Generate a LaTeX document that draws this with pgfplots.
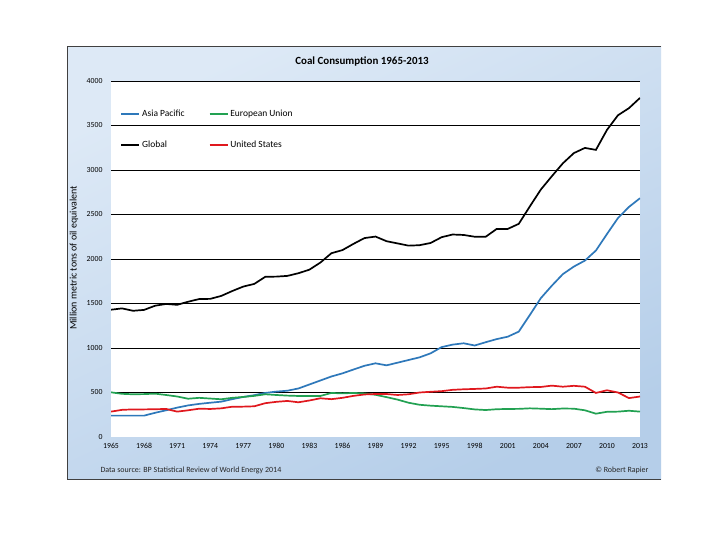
\documentclass[border=0pt]{standalone}
\usepackage{pgfplots}
\pgfplotsset{compat=1.18}
\usepackage{fontspec}
\setmainfont{Carlito}

\definecolor{apblue}{HTML}{2E78BA}
\definecolor{eugreen}{HTML}{22A152}
\definecolor{usred}{HTML}{E0181E}
\definecolor{bgtop}{HTML}{DDE9F6}
\definecolor{bgbot}{HTML}{B5CEE9}

\begin{document}
\begin{tikzpicture}[x=1bp,y=1bp]
\path[use as bounding box, fill=white] (0,0) rectangle (720,540);
% chart area background
\shade[top color=bgtop, bottom color=bgbot, shading angle=25] (67,60) rectangle (661,493);
\draw[black!75, line width=1bp] (661,493) -- (67,493) -- (67,60) -- (661,60);

\node[font=\bfseries\fontsize{11}{13}\selectfont] at (362,478) {Coal Consumption 1965-2013};
\node[rotate=90, font=\fontsize{10}{12}\selectfont] at (74,282) {Million metric tons of oil equivalent};
\node[anchor=west, font=\fontsize{8}{10}\selectfont, text=black!85] at (97,70) {Data source: BP Statistical Review of World Energy 2014};
\node[anchor=east, font=\fontsize{8}{10}\selectfont, text=black!85] at (652,70) {© Robert Rapier};

\begin{axis}[
    at={(111bp,103bp)}, anchor=south west,
    width=529bp, height=356bp, scale only axis,
    xmin=1965, xmax=2013, ymin=0, ymax=4000,
    axis background/.style={fill=white},
    axis line style={draw=none},
    tick style={draw=none},
    xtick={1965,1968,...,2013},
    ytick={500,1000,...,4000},
    extra y ticks={0}, extra y tick style={grid=none},
    ymajorgrids=true,
    grid style={black, line width=0.8bp},
    /pgf/number format/assume math mode=true,
    /pgf/number format/1000 sep={},
    ticklabel style={font=\fontsize{7.8}{9}\selectfont},
    yticklabel style={xshift=-5bp},
    xticklabel style={yshift=-3bp},
    no markers,
    every axis plot/.append style={line width=1.7bp},
    legend columns=2,
    legend cell align=left,
    legend style={at={(0.012,0.93)}, anchor=north west, draw=none, fill=none,
        font=\fontsize{9.5}{11}\selectfont, row sep=19bp,
        /tikz/every even column/.append style={column sep=22bp}},
    legend image code/.code={\draw[#1, line width=1.7bp] (0bp,0bp) -- (18bp,0bp);},
]
\addplot[apblue] coordinates {
(1965,240)(1966,240)(1967,240)(1968,240)(1969,272)(1970,300)(1971,330)(1972,355)
(1973,372)(1974,385)(1975,397)(1976,425)(1977,450)(1978,470)(1979,495)(1980,510)
(1981,520)(1982,545)(1983,590)(1984,635)(1985,680)(1986,715)(1987,758)(1988,800)
(1989,828)(1990,805)(1991,835)(1992,865)(1993,895)(1994,940)(1995,1010)(1996,1038)
(1997,1053)(1998,1028)(1999,1065)(2000,1100)(2001,1127)(2002,1184)(2003,1370)(2004,1560)
(2005,1700)(2006,1830)(2007,1915)(2008,1982)(2009,2095)(2010,2280)(2011,2460)(2012,2585)
(2013,2683)
};
\addlegendentry{Asia Pacific}
\addplot[eugreen] coordinates {
(1965,502)(1966,485)(1967,480)(1968,482)(1969,487)(1970,472)(1971,455)(1972,430)
(1973,440)(1974,432)(1975,424)(1976,440)(1977,450)(1978,462)(1979,480)(1980,472)
(1981,465)(1982,461)(1983,461)(1984,461)(1985,495)(1986,490)(1987,495)(1988,490)
(1989,474)(1990,448)(1991,420)(1992,385)(1993,362)(1994,352)(1995,345)(1996,338)
(1997,325)(1998,310)(1999,303)(2000,312)(2001,315)(2002,316)(2003,322)(2004,318)
(2005,313)(2006,320)(2007,318)(2008,300)(2009,262)(2010,283)(2011,285)(2012,295)
(2013,285)
};
\addlegendentry{European Union}
\addplot[black] coordinates {
(1965,1430)(1966,1445)(1967,1418)(1968,1428)(1969,1475)(1970,1495)(1971,1485)(1972,1520)
(1973,1550)(1974,1552)(1975,1585)(1976,1640)(1977,1690)(1978,1720)(1979,1800)(1980,1802)
(1981,1810)(1982,1840)(1983,1880)(1984,1960)(1985,2065)(1986,2100)(1987,2170)(1988,2235)
(1989,2252)(1990,2200)(1991,2175)(1992,2150)(1993,2155)(1994,2180)(1995,2245)(1996,2275)
(1997,2270)(1998,2250)(1999,2250)(2000,2338)(2001,2338)(2002,2395)(2003,2590)(2004,2780)
(2005,2930)(2006,3075)(2007,3190)(2008,3248)(2009,3226)(2010,3450)(2011,3615)(2012,3695)
(2013,3810)
};
\addlegendentry{Global}
\addplot[usred] coordinates {
(1965,285)(1966,305)(1967,310)(1968,310)(1969,312)(1970,315)(1971,285)(1972,300)
(1973,318)(1974,315)(1975,322)(1976,340)(1977,341)(1978,345)(1979,380)(1980,395)
(1981,405)(1982,390)(1983,410)(1984,435)(1985,425)(1986,440)(1987,462)(1988,478)
(1989,483)(1990,483)(1991,472)(1992,480)(1993,500)(1994,508)(1995,515)(1996,530)
(1997,536)(1998,540)(1999,545)(2000,565)(2001,554)(2002,554)(2003,560)(2004,562)
(2005,577)(2006,565)(2007,575)(2008,565)(2009,495)(2010,525)(2011,500)(2012,437)
(2013,455)
};
\addlegendentry{United States}
\end{axis}
\end{tikzpicture}
\end{document}
